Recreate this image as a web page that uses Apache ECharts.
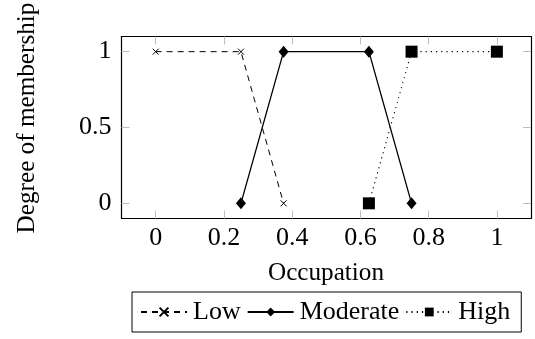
<!DOCTYPE html>
<html>
<head>
<meta charset="utf-8">
<script src="https://cdn.jsdelivr.net/npm/echarts@6/dist/echarts.min.js"></script>
<style>
  html, body { margin: 0; padding: 0; background: #fff; }
  #chart { width: 535px; height: 339px; }
</style>
</head>
<body>
<div id="chart"></div>
<script>
// Fuzzy membership functions for occupation level
const lowX = [0, 0.25, 0.375];
const lowY = [1, 1, 0];
const moderateX = [0.25, 0.375, 0.625, 0.75];
const moderateY = [0, 1, 1, 0];
const highX = [0.625, 0.75, 1];
const highY = [0, 1, 1];

const xTicks = [0, 0.2, 0.4, 0.6, 0.8, 1];
const yTicks = [0, 0.5, 1];

const seriesNames = ['Low', 'Moderate', 'High'];

const FONT = 'Liberation Serif, Times New Roman, serif';
const FS = 26;     // tick labels and legend
const FS_T = 25.2; // axis titles

function pairs(xs, ys) { return xs.map((x, i) => [x, ys[i]]); }

// thin diagonal cross marker
const crossPath = 'path://M0,0 L10,10 M10,0 L0,10';

const tickStyle = { show: true, inside: true, length: 8, lineStyle: { color: '#bdbdbd', width: 1 } };
const axisLineStyle = { show: true, onZero: false, lineStyle: { color: '#000', width: 1.2 } };

const chart = echarts.init(document.getElementById('chart'), null, { renderer: 'canvas' });

chart.setOption({
  animation: false,
  backgroundColor: '#fff',
  textStyle: { fontFamily: FONT, color: '#000' },
  grid: { left: 121.5, right: 4, top: 36.5, bottom: 120.5, containLabel: false },
  xAxis: [
    {
      type: 'value', position: 'bottom', min: -0.1, max: 1.1,
      axisLine: axisLineStyle,
      axisTick: Object.assign({}, tickStyle, { customValues: xTicks }),
      axisLabel: { customValues: xTicks, fontFamily: FONT, fontSize: FS, color: '#000', margin: 7 },
      splitLine: { show: false }
    },
    {
      type: 'value', position: 'top', min: -0.1, max: 1.1,
      axisLine: axisLineStyle,
      axisTick: Object.assign({}, tickStyle, { customValues: xTicks }),
      axisLabel: { show: false },
      splitLine: { show: false }
    }
  ],
  yAxis: [
    {
      type: 'value', position: 'left', min: -0.1, max: 1.1,
      axisLine: axisLineStyle,
      axisTick: Object.assign({}, tickStyle, { customValues: yTicks }),
      axisLabel: { customValues: yTicks, fontFamily: FONT, fontSize: FS, color: '#000', margin: 10 },
      splitLine: { show: false }
    },
    {
      type: 'value', position: 'right', min: -0.1, max: 1.1,
      axisLine: axisLineStyle,
      axisTick: Object.assign({}, tickStyle, { customValues: yTicks }),
      axisLabel: { show: false },
      splitLine: { show: false }
    }
  ],
  legend: {
    data: seriesNames,
    left: 132, top: 292,
    orient: 'horizontal',
    padding: [7, 11, 7, 8],
    itemWidth: 46, itemHeight: 11, itemGap: 6,
    borderColor: '#000', borderWidth: 1,
    textStyle: { fontFamily: FONT, fontSize: FS, color: '#000', padding: [0, 0, 0, 1] }
  },
  graphic: [
    {
      type: 'text', x: 27, y: 118, rotation: Math.PI / 2,
      style: { text: 'Degree of membership', font: FS_T + 'px ' + FONT, fill: '#000', align: 'center', verticalAlign: 'middle' }
    },
    {
      type: 'text', x: 326, y: 273,
      style: { text: 'Occupation', font: FS_T + 'px ' + FONT, fill: '#000', align: 'center', verticalAlign: 'middle' }
    }
  ],
  series: [
    {
      name: seriesNames[0], type: 'line', data: pairs(lowX, lowY),
      symbol: crossPath, symbolSize: 6,
      itemStyle: { color: 'transparent', borderColor: '#000', borderWidth: 1 },
      lineStyle: { color: '#000', width: 1, type: [6, 5] }
    },
    {
      name: seriesNames[1], type: 'line', data: pairs(moderateX, moderateY),
      symbol: 'diamond', symbolSize: [10, 12],
      itemStyle: { color: '#000' },
      lineStyle: { color: '#000', width: 1.3, type: 'solid' }
    },
    {
      name: seriesNames[2], type: 'line', data: pairs(highX, highY),
      symbol: 'rect', symbolSize: 12,
      itemStyle: { color: '#000' },
      lineStyle: { color: '#000', width: 1.1, type: [1.2, 4] }
    }
  ]
});
</script>
</body>
</html>
